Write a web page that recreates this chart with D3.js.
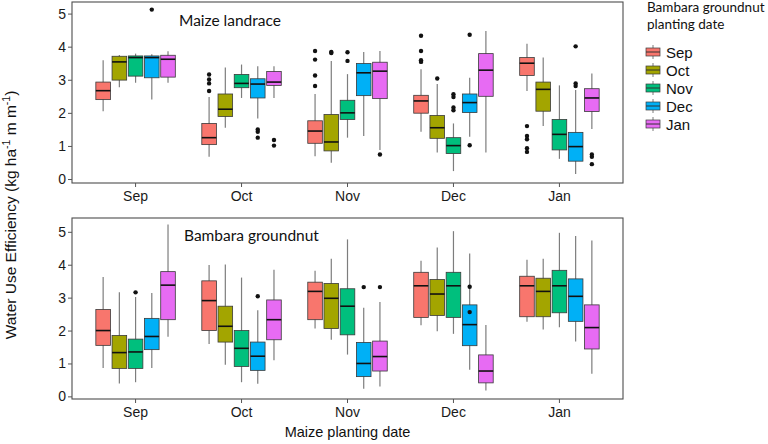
<!DOCTYPE html>
<html>
<head>
<meta charset="utf-8">
<script src="https://cdn.jsdelivr.net/npm/d3@7"></script>
<style>
  body { margin: 0; background: #fff; }
</style>
</head>
<body>
<svg id="chart" width="768" height="444"></svg>
<script>
// maize planting dates on the x axis, bambara planting dates as the dodged boxes
const maizeDates = ['Sep', 'Oct', 'Nov', 'Dec', 'Jan'];
const bambaraDates = ['Sep', 'Oct', 'Nov', 'Dec', 'Jan'];
const bambaraColours = ['#F8766D', '#A3A500', '#00BF7D', '#00B0F6', '#E76BF3'];
const yTicks = [0, 1, 2, 3, 4, 5];

const sansFont = '"Liberation Sans", Arial, sans-serif';
const noteFont = 'Lato, "Open Sans", sans-serif';

// each box: [lower whisker, q1, median, q3, upper whisker]
// rows = maize planting date, columns = bambara planting date
const landraceStats = [
  [[2.05, 2.40, 2.67, 2.93, 3.59], [2.77, 2.99, 3.54, 3.71, 3.75], [2.91, 3.11, 3.67, 3.72, 3.79], [2.40, 3.06, 3.67, 3.72, 3.77], [2.91, 3.08, 3.62, 3.74, 3.86]],
  [[0.67, 1.04, 1.25, 1.68, 2.48], [1.55, 1.89, 2.11, 2.57, 3.37], [2.45, 2.76, 2.89, 3.16, 3.46], [1.83, 2.45, 2.87, 3.03, 3.41], [2.45, 2.83, 2.93, 3.25, 3.41]],
  [[0.69, 1.08, 1.45, 1.76, 2.57], [0.49, 0.85, 1.12, 1.95, 3.57], [1.25, 1.80, 2.00, 2.38, 3.17], [1.30, 2.52, 3.21, 3.49, 3.84], [0.88, 2.43, 3.26, 3.53, 3.87]],
  [[1.43, 1.99, 2.36, 2.53, 3.32], [0.80, 1.23, 1.55, 1.92, 2.87], [0.24, 0.77, 1.01, 1.25, 1.68], [1.28, 2.01, 2.31, 2.57, 3.06], [0.80, 2.50, 3.29, 3.79, 4.47]],
  [[2.66, 3.13, 3.50, 3.67, 4.09], [1.60, 2.05, 2.71, 2.93, 3.67], [0.61, 0.88, 1.35, 1.80, 2.83], [0.15, 0.54, 0.98, 1.41, 2.69], [1.51, 2.04, 2.45, 2.73, 3.19]]
];
const landraceOutliers = [
  [[], [], [], [5.12], []],
  [[3.16, 3.01, 2.89, 2.66], [], [], [1.50, 1.43, 1.25], [1.18, 1.01]],
  [[3.87, 3.61, 3.13, 2.81], [3.84, 3.81], [3.83, 3.57], [], [0.74]],
  [[4.33, 3.87, 3.59, 3.54], [3.04], [2.56, 2.48, 2.16, 2.08], [4.36, 1.02], []],
  [[1.60, 1.30, 1.20, 0.93, 0.82], [], [], [4.01, 2.89, 2.81], [0.74, 0.67, 0.45]]
];

const groundnutStats = [
  [[0.86, 1.55, 2.00, 2.64, 3.63], [0.39, 0.85, 1.33, 1.85, 3.16], [0.43, 0.85, 1.35, 1.74, 3.02], [0.86, 1.42, 1.82, 2.37, 3.14], [1.81, 2.33, 3.38, 3.79, 5.22]],
  [[1.59, 2.00, 2.91, 3.51, 3.99], [0.96, 1.65, 2.13, 2.74, 4.01], [0.43, 0.91, 1.46, 2.00, 3.61], [0.38, 0.79, 1.22, 1.65, 2.62], [1.10, 1.72, 2.33, 2.93, 3.85]],
  [[2.06, 2.33, 3.19, 3.47, 3.82], [1.72, 2.06, 2.98, 3.43, 4.18], [1.27, 1.87, 2.74, 3.27, 4.77], [0.23, 0.60, 1.00, 1.64, 2.69], [0.30, 0.77, 1.21, 1.68, 2.87]],
  [[2.16, 2.40, 3.36, 3.77, 4.12], [1.98, 2.46, 3.11, 3.55, 4.52], [1.90, 2.40, 3.36, 3.77, 5.02], [0.81, 1.54, 2.18, 2.78, 4.34], [0.18, 0.41, 0.77, 1.26, 2.17]],
  [[2.27, 2.42, 3.36, 3.65, 4.15], [2.03, 2.42, 3.19, 3.59, 4.18], [2.10, 2.54, 3.36, 3.83, 4.97], [1.67, 2.28, 3.04, 3.57, 4.87], [0.69, 1.44, 2.09, 2.78, 4.74]]
];
const groundnutOutliers = [
  [[], [], [3.16], [], []],
  [[], [], [], [3.04], []],
  [[], [], [], [3.32], [3.32]],
  [[], [], [], [3.33, 2.56], []],
  [[], [], [], [], []]
];

const svg = d3.select('#chart');
const left = 72, right = 623;

// discrete x with ggplot-like 0.6 expansion
let x = d3.scaleBand()
  .domain(maizeDates)
  .range([left, right])
  .paddingInner(0)
  .paddingOuter(0.1);
let step = x.step();
let dodge = d3.scaleBand()
  .domain(bambaraDates)
  .range([-0.375 * step, 0.375 * step])
  .paddingInner(0.1);
let colour = d3.scaleOrdinal().domain(bambaraDates).range(bambaraColours);

let drawPanel = (stats, outliers, yDomain, top, bottom, label, labelX, labelY) => {
  let y = d3.scaleLinear().domain(yDomain).range([bottom, top]);
  let g = svg.append('g');

  // flatten to one record per box
  let boxes = [];
  maizeDates.forEach((m, i) => {
    bambaraDates.forEach((b, j) => {
      let s = stats[i][j];
      boxes.push({ m: m, b: b, lo: s[0], q1: s[1], med: s[2], q3: s[3], hi: s[4], out: outliers[i][j] });
    });
  });

  let bw = dodge.bandwidth();
  let cx = d => x(d.m) + step / 2 + dodge(d.b) + bw / 2;

  let box = g.selectAll('g.box')
    .data(boxes)
    .enter()
    .append('g')
    .attr('class', 'box');

  box.append('line')
    .attr('x1', cx).attr('x2', cx)
    .attr('y1', d => y(d.hi)).attr('y2', d => y(d.lo))
    .attr('stroke', '#7d7d7d')
    .attr('stroke-width', 1.2);

  box.append('rect')
    .attr('x', d => cx(d) - bw / 2)
    .attr('width', bw)
    .attr('y', d => y(d.q3))
    .attr('height', d => y(d.q1) - y(d.q3))
    .attr('fill', d => colour(d.b))
    .attr('stroke', '#3a3a3a')
    .attr('stroke-width', 0.8);

  box.append('line')
    .attr('x1', d => cx(d) - bw / 2).attr('x2', d => cx(d) + bw / 2)
    .attr('y1', d => y(d.med)).attr('y2', d => y(d.med))
    .attr('stroke', '#111')
    .attr('stroke-width', 1.6);

  box.selectAll('circle')
    .data(d => d.out.map(v => ({ cx: cx(d), v: v })))
    .enter()
    .append('circle')
    .attr('cx', d => d.cx)
    .attr('cy', d => y(d.v))
    .attr('r', 2.2)
    .attr('fill', '#111');

  // panel border
  g.append('rect')
    .attr('x', left).attr('y', top)
    .attr('width', right - left).attr('height', bottom - top)
    .attr('fill', 'none')
    .attr('stroke', '#4d4d4d')
    .attr('stroke-width', 1.1);

  // axes
  let yAxis = d3.axisLeft(y).tickValues(yTicks).tickFormat(d3.format('d')).tickSize(4).tickPadding(2);
  let ya = g.append('g').attr('transform', `translate(${left},0)`).call(yAxis);
  ya.select('.domain').remove();
  ya.selectAll('line').attr('stroke', '#555');
  ya.selectAll('text').attr('font-size', 14).attr('font-family', sansFont).attr('fill', '#1a1a1a');

  let xAxis = d3.axisBottom(x).tickSize(4).tickPadding(4);
  let xa = g.append('g').attr('transform', `translate(0,${bottom})`).call(xAxis);
  xa.select('.domain').remove();
  xa.selectAll('line').attr('stroke', '#555');
  xa.selectAll('text').attr('font-size', 14).attr('font-family', sansFont).attr('fill', '#1a1a1a');

  g.append('text')
    .attr('x', labelX).attr('y', labelY)
    .attr('font-family', noteFont)
    .attr('font-size', 15.5)
    .attr('fill', '#111')
    .text(label);
};

drawPanel(landraceStats, landraceOutliers, [-0.12, 5.35], 2, 183, 'Maize landrace', 179, 26);
drawPanel(groundnutStats, groundnutOutliers, [-0.08, 5.42], 218, 399, 'Bambara groundnut', 184, 241);

// axis titles
svg.append('text')
  .attr('x', (left + right) / 2).attr('y', 437)
  .attr('text-anchor', 'middle')
  .attr('font-family', sansFont)
  .attr('font-size', 14.5)
  .attr('fill', '#111')
  .text('Maize planting date');

let yt = svg.append('text')
  .attr('transform', 'translate(16,215) rotate(-90)')
  .attr('text-anchor', 'middle')
  .attr('font-family', sansFont)
  .attr('font-size', 15.5)
  .attr('fill', '#111');
yt.append('tspan').text('Water Use Efficiency (kg ha');
yt.append('tspan').attr('dy', -6).attr('font-size', 10.5).text('-1');
yt.append('tspan').attr('dy', 6).text(' m m');
yt.append('tspan').attr('dy', -6).attr('font-size', 10.5).text('-1');
yt.append('tspan').attr('dy', 6).text(')');

// legend
let legend = svg.append('g').attr('transform', 'translate(646,0)');
legend.append('text').attr('x', 1).attr('y', 12)
  .attr('font-family', noteFont)
  .attr('font-size', 13.5).attr('fill', '#111').text('Bambara groundnut');
legend.append('text').attr('x', 1).attr('y', 29)
  .attr('font-family', noteFont)
  .attr('font-size', 13.5).attr('fill', '#111').text('planting date');

let item = legend.selectAll('g.item')
  .data(bambaraDates)
  .enter()
  .append('g')
  .attr('class', 'item')
  .attr('transform', (d, i) => `translate(0,${52 + i * 18})`);
item.append('line')
  .attr('x1', 7).attr('x2', 7).attr('y1', -7).attr('y2', 7)
  .attr('stroke', '#7d7d7d').attr('stroke-width', 1);
item.append('rect')
  .attr('x', 0).attr('y', -4).attr('width', 14).attr('height', 8)
  .attr('fill', d => colour(d))
  .attr('stroke', '#3a3a3a').attr('stroke-width', 0.7);
item.append('line')
  .attr('x1', 0).attr('x2', 14).attr('y1', 0).attr('y2', 0)
  .attr('stroke', '#333').attr('stroke-width', 1);
item.append('text')
  .attr('x', 20).attr('y', 5.5)
  .attr('font-family', sansFont)
  .attr('font-size', 15)
  .attr('fill', '#111')
  .text(d => d);
</script>
</body>
</html>
